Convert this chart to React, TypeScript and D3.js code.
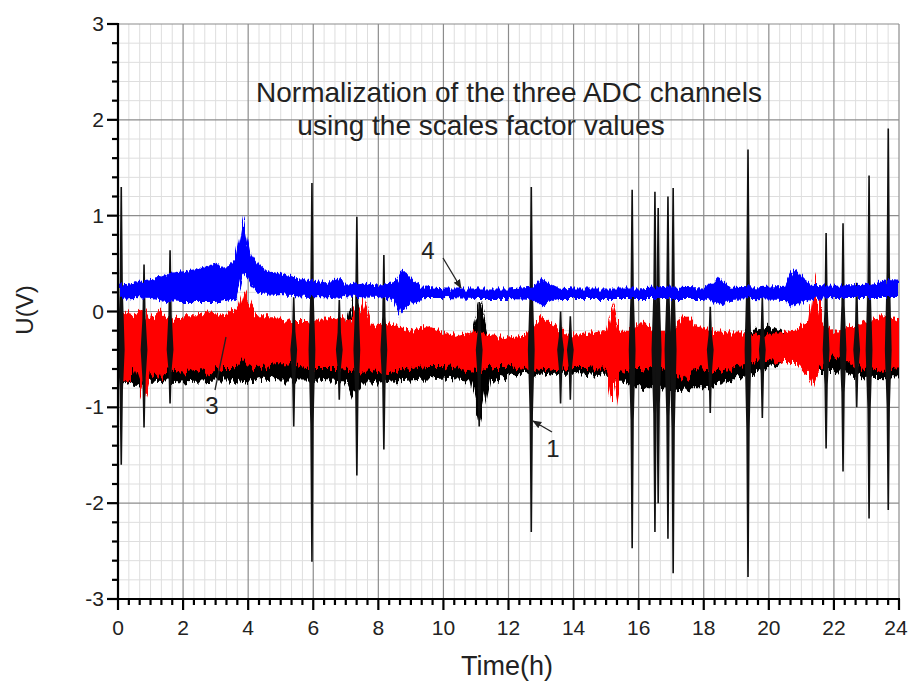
import React from "react";
import * as d3 from "d3";

// ---------------- data ----------------
const xTicks = [0, 2, 4, 6, 8, 10, 12, 14, 16, 18, 20, 22, 24];
const yTicks = [-3, -2, -1, 0, 1, 2, 3];

// channel 4 (blue) envelope
const blueT = [0, 0.5, 1, 1.5, 2, 2.5, 3, 3.3, 3.6, 3.75, 3.85, 3.95, 4.1, 4.3, 4.6, 5, 5.5, 6, 6.5, 6.8, 7, 7.5, 8, 8.5, 8.7, 8.9, 9.1, 9.4, 10, 11, 12, 12.8, 13.0, 13.2, 13.5, 14, 15, 16, 17, 18, 18.3, 18.45, 18.6, 18.8, 19.5, 20.5, 20.75, 20.9, 21.05, 21.3, 22, 23, 23.7, 24];
const blueHi = [0.28, 0.3, 0.33, 0.4, 0.42, 0.45, 0.5, 0.45, 0.55, 0.8, 1.02, 0.85, 0.6, 0.5, 0.42, 0.4, 0.35, 0.32, 0.3, 0.35, 0.28, 0.3, 0.27, 0.3, 0.43, 0.4, 0.32, 0.26, 0.24, 0.24, 0.24, 0.26, 0.36, 0.3, 0.25, 0.24, 0.24, 0.24, 0.26, 0.25, 0.3, 0.36, 0.32, 0.26, 0.25, 0.27, 0.45, 0.42, 0.35, 0.28, 0.27, 0.28, 0.33, 0.32];
const blueLo = [0.13, 0.14, 0.13, 0.11, 0.1, 0.1, 0.1, 0.12, 0.1, 0.25, 0.4, 0.35, 0.25, 0.2, 0.18, 0.17, 0.16, 0.15, 0.15, 0.13, 0.16, 0.15, 0.14, 0.12, -0.03, 0.05, 0.1, 0.14, 0.14, 0.13, 0.13, 0.12, 0.05, 0.1, 0.13, 0.13, 0.13, 0.13, 0.13, 0.13, 0.1, 0.07, 0.08, 0.12, 0.13, 0.12, 0.04, 0.05, 0.1, 0.13, 0.14, 0.14, 0.14, 0.14];

// channel 3 (red) envelope
const redT = [0, 0.3, 0.5, 0.8, 1.0, 1.3, 1.6, 2.0, 2.4, 2.8, 3.2, 3.5, 3.7, 3.85, 4.0, 4.3, 4.8, 5.3, 5.8, 6.3, 6.8, 7.2, 7.5, 7.8, 8.2, 8.6, 9.0, 9.5, 10, 10.5, 11, 11.5, 12, 12.5, 13.0, 13.3, 13.6, 14, 14.5, 15.0, 15.2, 15.4, 15.8, 16.1, 16.5, 17.0, 17.4, 17.8, 18.3, 18.8, 19.3, 19.8, 20.3, 20.8, 21.2, 21.4, 21.6, 22.0, 22.5, 23.0, 23.5, 24];
const redHi = [-0.05, 0.05, -0.05, 0.05, -0.08, 0.0, -0.08, -0.05, -0.05, 0.0, -0.05, 0.0, 0.05, 0.22, 0.1, -0.05, -0.05, -0.1, -0.1, -0.08, -0.05, -0.1, 0.15, -0.15, -0.12, -0.15, -0.2, -0.15, -0.22, -0.25, -0.2, -0.25, -0.27, -0.25, -0.05, -0.12, -0.2, -0.25, -0.22, -0.2, 0.09, -0.2, -0.2, -0.1, -0.2, -0.2, -0.02, -0.15, -0.2, -0.22, -0.22, -0.25, -0.22, -0.2, -0.1, 0.38, -0.1, -0.22, -0.15, -0.1, -0.05, -0.08];
const redLo = [-0.65, -0.75, -0.6, -0.9, -0.62, -0.7, -0.6, -0.65, -0.6, -0.65, -0.6, -0.6, -0.55, -0.5, -0.55, -0.6, -0.55, -0.55, -0.6, -0.6, -0.6, -0.62, -0.65, -0.6, -0.65, -0.62, -0.6, -0.58, -0.58, -0.6, -0.62, -0.58, -0.58, -0.6, -0.62, -0.6, -0.6, -0.58, -0.58, -0.62, -1.0, -0.62, -0.6, -0.6, -0.58, -0.6, -0.7, -0.6, -0.62, -0.6, -0.55, -0.5, -0.52, -0.55, -0.65, -0.79, -0.6, -0.45, -0.55, -0.6, -0.62, -0.6];

// channel 1 (black) envelope
const blackT = [0, 0.5, 1, 2, 3, 3.5, 3.8, 4.1, 4.5, 5, 6, 7, 7.2, 7.5, 8, 9, 10, 10.8, 11.1, 11.4, 12, 12.5, 13, 13.5, 14, 15, 16, 17, 17.5, 18, 18.5, 19, 19.5, 20, 20.4, 21, 21.5, 22, 23, 24];
const blackHi = [-0.2, -0.2, -0.2, -0.2, -0.2, -0.2, -0.15, -0.1, -0.25, -0.25, -0.25, -0.25, 0.15, -0.2, -0.25, -0.3, -0.35, -0.3, 0.1, -0.3, -0.35, -0.35, -0.35, -0.35, -0.35, -0.35, -0.3, -0.3, -0.3, -0.25, -0.25, -0.25, -0.2, -0.16, -0.2, -0.3, -0.3, -0.3, -0.3, -0.3];
const blackLo = [-0.72, -0.78, -0.72, -0.74, -0.72, -0.72, -0.76, -0.72, -0.7, -0.72, -0.72, -0.74, -0.9, -0.74, -0.74, -0.72, -0.7, -0.72, -1.2, -0.72, -0.68, -0.64, -0.67, -0.64, -0.64, -0.67, -0.78, -0.82, -0.8, -0.8, -0.74, -0.7, -0.66, -0.57, -0.52, -0.56, -0.62, -0.62, -0.69, -0.7];

// channel 1 (black) spikes: time, top, bottom
const spikeT = [0.1, 0.8, 1.6, 5.4, 5.96, 6.8, 7.34, 8.17, 11.1, 12.7, 13.6, 13.9, 15.8, 16.5, 16.6, 16.9, 17.06, 18.2, 19.36, 19.8, 21.76, 22.28, 22.7, 23.08, 23.67];
const spikeTop = [1.3, 0.49, 0.64, 0.15, 1.34, 0.12, 0.99, 0.59, 0.1, 1.3, 0.0, -0.05, 1.27, 1.25, 1.08, 1.2, 1.29, 0.05, 1.69, 0.15, 0.82, 0.92, 0.3, 1.42, 1.91];
const spikeBottom = [-1.6, -1.21, -0.96, -1.2, -2.61, -0.92, -1.71, -1.44, -1.2, -2.3, -0.96, -0.92, -2.47, -2.3, -2.0, -2.37, -2.73, -1.06, -2.77, -1.11, -1.43, -1.67, -1.0, -2.16, -2.07];

const titleLines = ["Normalization of the three ADC channels", "using the scales factor values"];

// ---------------- layout ----------------
const W = 909, H = 696;
const X0 = 118, X1 = 899, Y0 = 599, Y1 = 24;
const FONT = "'Liberation Sans', Arial, sans-serif";

export default function App() {
  const x = d3.scaleLinear().domain([0, 24]).range([X0, X1]);
  const y = d3.scaleLinear().domain([-3, 3]).range([Y0, Y1]);

  const band = (T: number[], hi: number[], lo: number[]) =>
    d3.area<number>().x((i) => x(T[i])).y0((i) => y(lo[i])).y1((i) => y(hi[i]))(d3.range(T.length)) || "";

  const xMinor = d3.range(0, 72 + 1).map((i) => i / 3).filter((v) => Math.abs(v / 2 - Math.round(v / 2)) > 1e-6);
  const yMinor = d3.range(-15, 16).map((i) => i / 5).filter((v) => Math.abs(v - Math.round(v)) > 1e-6);

  const spikePath = (i: number) => {
    const cx = x(spikeT[i]);
    const base = y(-0.4);
    const top = y(spikeTop[i]);
    const bot = y(spikeBottom[i]);
    const w = 3.4, m = 1.7, tip = 0.8;
    const mid1 = y(spikeTop[i] * 0.35 - 0.4 * 0.65);
    const mid2 = y(spikeBottom[i] * 0.35 - 0.4 * 0.65);
    return `M${cx - tip},${top}L${cx + tip},${top}L${cx + m},${mid1}L${cx + w},${base}L${cx + m},${mid2}L${cx + tip},${bot}L${cx - tip},${bot}L${cx - m},${mid2}L${cx - w},${base}L${cx - m},${mid1}Z`;
  };

  return (
    <svg width={W} height={H} style={{ position: "absolute", left: 0, top: 0, background: "#fff" }} fontFamily={FONT}>
      <defs>
        <clipPath id="plot">
          <rect x={X0 + 1} y={Y1} width={X1 - X0 - 1} height={Y0 - Y1} />
        </clipPath>
        <filter id="noise" filterUnits="userSpaceOnUse" x={X0 - 20} y={Y1 - 20} width={X1 - X0 + 40} height={Y0 - Y1 + 40}>
          <feTurbulence type="fractalNoise" baseFrequency="0.45 0.012" numOctaves={3} seed={4} result="n" />
          <feDisplacementMap in="SourceGraphic" in2="n" scale={14} xChannelSelector="B" yChannelSelector="G" />
        </filter>
        <filter id="noise2" filterUnits="userSpaceOnUse" x={X0 - 20} y={Y1 - 20} width={X1 - X0 + 40} height={Y0 - Y1 + 40}>
          <feTurbulence type="fractalNoise" baseFrequency="0.5 0.015" numOctaves={3} seed={9} result="n" />
          <feDisplacementMap in="SourceGraphic" in2="n" scale={9} xChannelSelector="B" yChannelSelector="G" />
        </filter>
        <marker id="arr" viewBox="0 0 10 10" refX="9" refY="5" markerWidth="7" markerHeight="7" orient="auto">
          <path d="M0,1L10,5L0,9Z" fill="#222" />
        </marker>
      </defs>
      <rect width={W} height={H} fill="#fff" />

      {/* grid */}
      <g stroke="#dedede" strokeWidth={1}>
        {xMinor.map((v) => <line key={"xm" + v} x1={x(v)} x2={x(v)} y1={Y1} y2={Y0} />)}
        {yMinor.map((v) => <line key={"ym" + v} x1={X0} x2={X1} y1={y(v)} y2={y(v)} />)}
      </g>
      <g stroke="#8c8c8c" strokeWidth={1.2}>
        {xTicks.filter((v) => v > 0).map((v) => <line key={"xg" + v} x1={x(v)} x2={x(v)} y1={Y1} y2={Y0} />)}
        {yTicks.filter((v) => v > -3).map((v) => <line key={"yg" + v} x1={X0} x2={X1} y1={y(v)} y2={y(v)} />)}
      </g>

      {/* data */}
      <g clipPath="url(#plot)">
        <path d={band(blackT, blackHi, blackLo)} fill="#000" filter="url(#noise)" />
        <path d={band(redT, redHi, redLo)} fill="#f00" filter="url(#noise)" />
        {spikeT.map((_, i) => <path key={"sp" + i} d={spikePath(i)} fill="#111" />)}
        <path d={band(blueT, blueHi, blueLo)} fill="#0000ff" filter="url(#noise2)" />
      </g>

      {/* axes */}
      <g stroke="#000" strokeWidth={2.2}>
        <line x1={X0} x2={X0} y1={Y1 - 1} y2={Y0 + 1} />
        <line x1={X0 - 1} x2={X1 + 1} y1={Y0} y2={Y0} />
        {yTicks.map((v) => <line key={"yt" + v} x1={X0 - 11} x2={X0} y1={y(v)} y2={y(v)} />)}
        {yMinor.map((v) => <line key={"ymt" + v} x1={X0 - 6} x2={X0} y1={y(v)} y2={y(v)} />)}
        {xTicks.map((v) => <line key={"xt" + v} x1={x(v)} x2={x(v)} y1={Y0} y2={Y0 + 11} />)}
        {xMinor.map((v) => <line key={"xmt" + v} x1={x(v)} x2={x(v)} y1={Y0} y2={Y0 + 6} />)}
      </g>
      <g fontSize={21} fill="#222">
        {yTicks.map((v) => (
          <text key={"yl" + v} x={X0 - 14} y={y(v) + 7} textAnchor="end">{v}</text>
        ))}
        {xTicks.map((v) => (
          <text key={"xl" + v} x={v === 24 ? x(v) - 3 : x(v)} y={Y0 + 36} textAnchor="middle">{v}</text>
        ))}
      </g>
      <text x={507} y={675} fontSize={27} textAnchor="middle" fill="#222">Time(h)</text>
      <text transform="translate(33,310) rotate(-90)" fontSize={24} textAnchor="middle" fill="#222">U(V)</text>

      {/* title */}
      <g fontSize={28} fill="#222">
        <text x={509} y={102} textAnchor="middle">{titleLines[0]}</text>
        <text x={481} y={135} textAnchor="middle">{titleLines[1]}</text>
      </g>

      {/* annotations */}
      <g fontSize={24} fill="#222" stroke="#222" strokeWidth={1.3}>
        <text x={428} y={259} textAnchor="middle" stroke="none">4</text>
        <line x1={443} y1={258} x2={461} y2={288} markerEnd="url(#arr)" />
        <text x={212} y={414} textAnchor="middle" stroke="none">3</text>
        <line x1={215} y1={390} x2={226} y2={337} />
        <text x={553} y={457} textAnchor="middle" stroke="none">1</text>
        <line x1={552} y1={432} x2={533} y2={421} markerEnd="url(#arr)" />
      </g>
    </svg>
  );
}
